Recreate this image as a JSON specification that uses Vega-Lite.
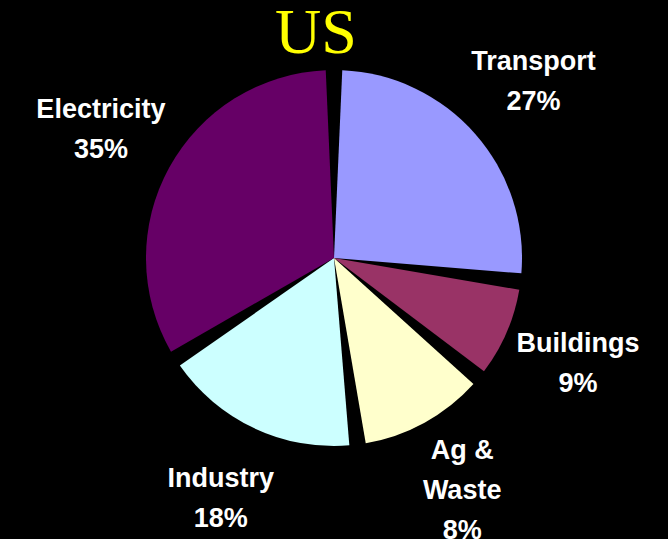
{
  "$schema": "https://vega.github.io/schema/vega-lite/v6.json",
  "autosize": "none",
  "width": 668,
  "height": 516,
  "padding": {"left": 0, "right": 0, "top": 0, "bottom": 23},
  "background": "black",
  "title": {
    "text": "US",
    "anchor": "middle",
    "font": "Liberation Serif",
    "fontSize": 64,
    "fontWeight": "normal",
    "color": "#FFFF00",
    "dx": -18,
    "offset": -66
  },
  "data": {
    "values": [
      {"idx": 1, "sector": "Transport", "share": 27, "label": "Transport\n27%"},
      {"idx": 2, "sector": "Buildings", "share": 9, "label": "Buildings\n9%"},
      {"idx": 3, "sector": "Ag & Waste", "share": 12, "label": "Ag &\nWaste\n8%"},
      {"idx": 4, "sector": "Industry", "share": 18, "label": "Industry\n18%"},
      {"idx": 5, "sector": "Electricity", "share": 34, "label": "Electricity\n35%"}
    ]
  },
  "encoding": {
    "theta": {"field": "share", "type": "quantitative", "stack": true},
    "order": {"field": "idx", "type": "quantitative"}
  },
  "layer": [
    {
      "mark": {"type": "arc", "outerRadius": 188, "padAngle": 0.088},
      "encoding": {
        "color": {
          "field": "sector",
          "type": "nominal",
          "scale": {
            "domain": ["Transport", "Buildings", "Ag & Waste", "Industry", "Electricity"],
            "range": ["#9999FF", "#993366", "#FFFFCC", "#CCFFFF", "#660066"]
          },
          "legend": null
        }
      }
    },
    {
      "mark": {
        "type": "text",
        "radius": 266,
        "font": "Liberation Sans",
        "fontSize": 27,
        "fontWeight": "bold",
        "fill": "white",
        "align": "center",
        "baseline": "middle",
        "dy": {"expr": "-20 * (length(split(datum.label, '\\n')) - 1)"},
        "lineBreak": "\n",
        "lineHeight": 40
      },
      "encoding": {
        "text": {"field": "label", "type": "nominal"}
      }
    }
  ]
}
